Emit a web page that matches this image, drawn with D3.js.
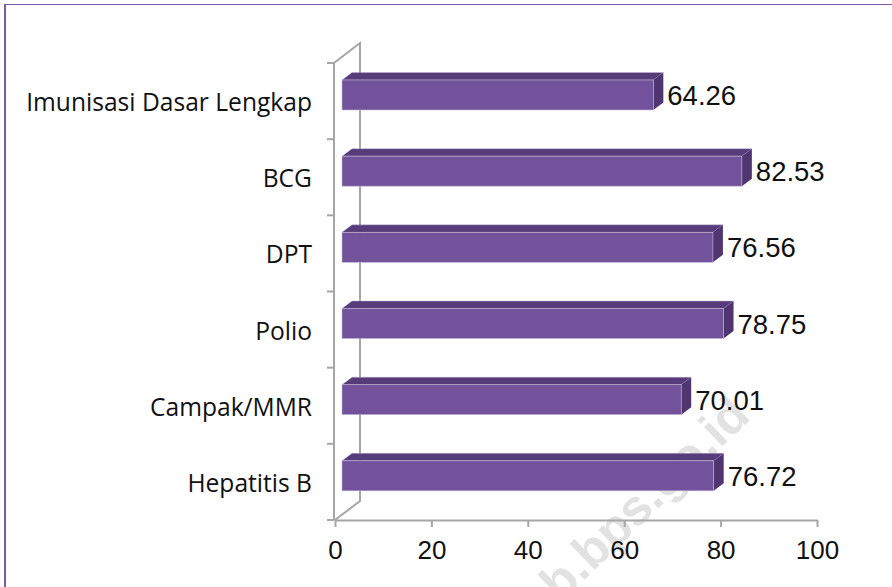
<!DOCTYPE html>
<html><head><meta charset="utf-8">
<script src="https://cdn.jsdelivr.net/npm/d3@7"></script>
<style>html,body{margin:0;padding:0;background:#fff}svg{display:block}text{font-family:"Liberation Sans",Arial,sans-serif;fill:#111}</style>
</head><body><svg id="c" width="892" height="587"></svg>
<script>
const categories=["Imunisasi Dasar Lengkap","BCG","DPT","Polio","Campak/MMR","Hepatitis B"];
const seriesValues=[64.26,82.53,76.56,78.75,70.01,76.72];
const tickValues=[0,20,40,60,80,100];
const svg=d3.select("#c");
const W=892,H=587,frame="#7c59aa",g="#a6a6a6";
svg.append("rect").attr("x",4).attr("y",4).attr("width",W-4).attr("height",1).attr("fill",frame);
svg.append("rect").attr("x",4).attr("y",4).attr("width",2).attr("height",H-4).attr("fill",frame);
// watermark
svg.append("text").attr("transform","translate(752,418) rotate(-44)").attr("text-anchor","end")
 .attr("font-size",50).attr("font-weight","bold").style("fill","#e2e2e2").text("web.bps.go.id");
const x=d3.scaleLinear().domain([0,100]).range([335,817]);
const barX=d3.scaleLinear().domain([0,100]).range([342,826.5]);
const y=d3.scaleBand().domain(categories).range([63,520]);
// walls
svg.append("path").attr("d","M334 63L360 43V501L335 520").attr("fill","none").attr("stroke",g).attr("stroke-width",2);
svg.append("line").attr("x1",334).attr("x2",334).attr("y1",63).attr("y2",520).attr("stroke",g).attr("stroke-width",2);
svg.append("g").selectAll("line").data(d3.range(categories.length+1)).join("line")
 .attr("x1",327).attr("x2",334)
 .attr("y1",i=>y.range()[0]+i*y.step()).attr("y2",i=>y.range()[0]+i*y.step())
 .attr("stroke",g).attr("stroke-width",2);
// x axis
const xg=svg.append("g").attr("transform","translate(0,520)").call(d3.axisBottom(x).tickValues(tickValues).tickSize(7).tickSizeOuter(0));
xg.select(".domain").attr("stroke",g).attr("stroke-width",2);
xg.selectAll("line").attr("stroke",g).attr("stroke-width",2);
xg.selectAll("text").attr("font-size",26).attr("y",21).attr("dy","0.71em").attr("fill","#111").style("font-family",'"Liberation Sans"');
// bars
const bh=30,d=10,e=7.5;
svg.append("g").selectAll("g").data(categories).join("g").each(function(c,i){
 const t=y(c)+17;
 const r=barX(seriesValues[i]),l=barX(0);
 const s=d3.select(this);
 s.append("path").attr("d",`M${l} ${t}L${l+d} ${t-e}H${r+d}L${r} ${t}Z`).attr("fill","#573c7c").attr("stroke","#c4b6d8").attr("stroke-width",.4);
 s.append("path").attr("d",`M${r} ${t}L${r+d} ${t-e}V${t+bh-e}L${r} ${t+bh}Z`).attr("fill","#4f3670");
 s.append("rect").attr("x",l).attr("y",t).attr("width",r-l).attr("height",bh).attr("fill","#73529c").attr("stroke","#c4b6d8").attr("stroke-width",.6);
 s.append("text").attr("x",r+14).attr("y",t+25).attr("font-size",27.5).text(seriesValues[i].toFixed(2));
 s.append("text").attr("x",312).attr("y",t+31).attr("text-anchor","end").attr("font-size",24.6).style("font-family",'"Open Sans"').text(c);
});
</script></body></html>
